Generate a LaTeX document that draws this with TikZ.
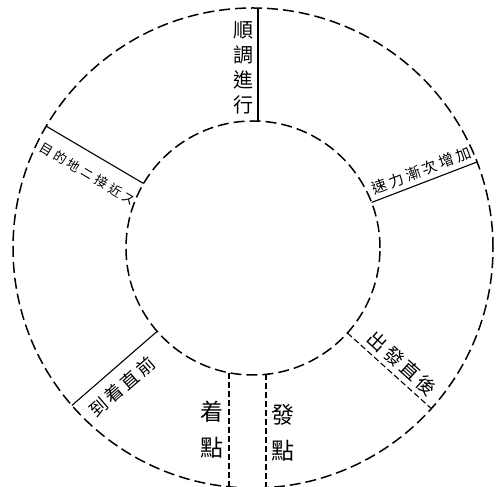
\documentclass[tikz,border=0pt]{standalone}
\usepackage{fontspec}
\newfontfamily\cjk{Noto Sans CJK TC}
\usetikzlibrary{calc}
\newcommand\sepa{\hspace{3pt}}
\begin{document}
\begin{tikzpicture}[x=1pt,y=1pt,
  ringline/.style={line width=1.5pt, dash pattern=on 11pt off 5pt},
  radial/.style={line width=1.1pt},
  radialdash/.style={line width=1.1pt, dash pattern=on 6pt off 3pt},
  lbl/.style={inner sep=0pt, anchor=center},
]
\useasboundingbox[fill=white] (0,0) rectangle (496,487);
\coordinate (C) at (253,239);
\draw[ringline] (C) circle[radius=240];
\draw[ringline] (C) circle[radius=127];

% radial end points
\coordinate (ti) at ($(C)+(5,126.9)$);
\coordinate (to) at ($(C)+(5,239.9)$);
\foreach \n/\a in {ru/21, rl/-42, ul/149.5, ll/221}{
  \coordinate (\n i) at ($(C)+(\a:127)$);
  \coordinate (\n o) at ($(C)+(\a:240)$);
}
\coordinate (bli) at ($(C)+(-24,-124.7)$);
\coordinate (blo) at ($(C)+(-24,-238.8)$);
\coordinate (bri) at ($(C)+(13,-126.3)$);
\coordinate (bro) at ($(C)+(13,-239.6)$);

\draw[radial] (ti) -- (to);
\draw[radial] (rui) -- (ruo);
\draw[radialdash] (rli) -- (rlo);
\draw[radial] (uli) -- (ulo);
\draw[radial] (lli) -- (llo);
\draw[radialdash] (bli) -- (blo);
\draw[radialdash] (bri) -- (bro);

% labels
\node[lbl, align=center, font=\cjk\fontsize{20}{25}\selectfont] (top) at ($(C)+(-10,180)$) {順\\調\\進\\行};
\node[lbl, rotate=21, font=\cjk\fontsize{15}{15}\selectfont] (ru) at ($(C)+(21:185)+(111:12)$)
  {速\sepa 力\sepa 漸\sepa 次\sepa 增\sepa 加};
\node[lbl, rotate=-42, font=\cjk\fontsize{19}{19}\selectfont] (rl) at ($(C)+(-42:188)+(48:14)$)
  {出\sepa 發\sepa 直\sepa 後};
\node[lbl, rotate=-30.5, font=\cjk\fontsize{13}{13}\selectfont] (ul) at ($(C)+(149.5:180)+(239.5:20)$)
  {目\sepa 的\sepa 地\sepa ニ\sepa 接\sepa 近\sepa ス};
\node[lbl, rotate=41, font=\cjk\fontsize{18}{18}\selectfont] (ll) at ($(C)+(221:190)+(311:19)$)
  {到\sepa 着\sepa 直\sepa 前};
\node[lbl, align=center, font=\cjk\fontsize{23}{36}\selectfont] (arr) at ($(C)+(-41,-182)$) {着\\點};
\node[lbl, align=center, font=\cjk\fontsize{23}{36}\selectfont] (dep) at ($(C)+(30,-185)$) {發\\點};
\end{tikzpicture}
\end{document}
